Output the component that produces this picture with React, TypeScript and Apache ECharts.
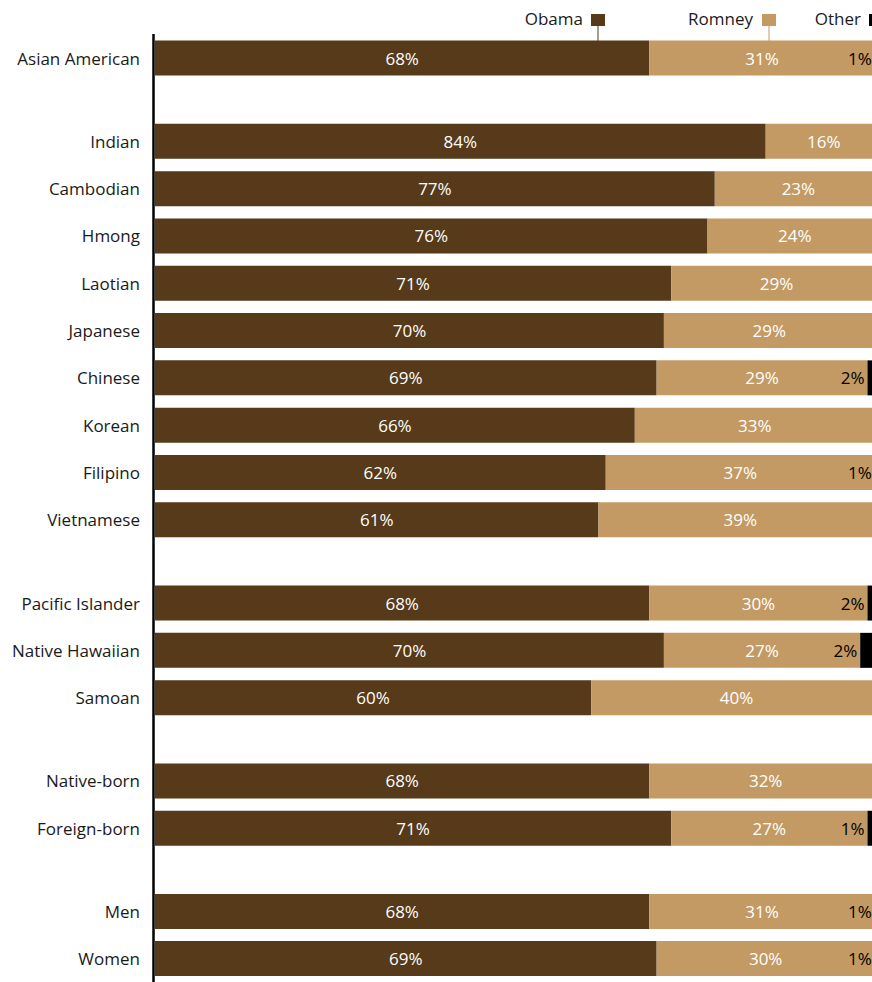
import React, { useEffect, useRef } from "react";
import * as echarts from "echarts";

const categories = [
  "Asian American",
  "Indian", "Cambodian", "Hmong", "Laotian", "Japanese", "Chinese", "Korean", "Filipino", "Vietnamese",
  "Pacific Islander", "Native Hawaiian", "Samoan",
  "Native-born", "Foreign-born",
  "Men", "Women",
];
const obama = [68, 84, 77, 76, 71, 70, 69, 66, 62, 61, 68, 70, 60, 68, 71, 68, 69];
const romney = [31, 16, 23, 24, 29, 29, 29, 33, 37, 39, 30, 27, 40, 32, 27, 31, 30];
const other = [1, 0, 0, 0, 0, 0, 2, 0, 1, 0, 2, 2, 0, 0, 1, 1, 1];
const groupSizes = [1, 9, 3, 2, 2];
const seriesNames = ["Obama", "Romney", "Other"];

const COLORS = ["#563a19", "#c39a63", "#000000"];
const FONT = "'Open Sans', 'Noto Sans', sans-serif";

export default function App() {
  const ref = useRef<HTMLDivElement>(null);
  useEffect(() => {
    if (!ref.current) return;
    const chart = echarts.init(ref.current, undefined, { renderer: "svg" });
    const pitch = 47.3;
    const groupGap = 36;
    const firstTop = 34.4;
    const grids: any[] = [];
    const xAxes: any[] = [];
    const yAxes: any[] = [];
    const series: any[] = [];
    let top = firstTop;
    let start = 0;
    groupSizes.forEach((n, gi) => {
      const h = n * pitch;
      grids.push({ left: 155, width: 727, top, height: h });
      xAxes.push({ gridIndex: gi, type: "value", min: 0, max: 100, show: false });
      yAxes.push({
        gridIndex: gi,
        type: "category",
        inverse: true,
        data: categories.slice(start, start + n),
        axisLine: { show: false },
        axisTick: { show: false },
        axisLabel: { fontSize: 17, color: "#1a1a1a", margin: 15, fontFamily: FONT },
      });
      const sets = [obama, romney, other];
      sets.forEach((arr, si) => {
        series.push({
          type: "bar",
          name: seriesNames[si],
          xAxisIndex: gi,
          yAxisIndex: gi,
          stack: "s" + gi,
          barWidth: 35,
          itemStyle: { color: COLORS[si] },
          data: arr.slice(start, start + n),
          label: {
            show: true,
            position: si === 2 ? "left" : "inside",
            distance: 3,
            fontSize: 17,
            fontFamily: FONT,
            color: si === 2 ? "#000" : "#fff",
            formatter: (p: any) => (p.value ? p.value + "%" : ""),
          },
        });
      });
      top += h + groupGap;
      start += n;
    });

    chart.setOption({
      animation: false,
      grid: grids,
      xAxis: xAxes,
      yAxis: yAxes,
      series,
      graphic: [
        { type: "line", shape: { x1: 153.5, y1: 34, x2: 153.5, y2: 982 }, style: { stroke: "#000", lineWidth: 2.5 } },
        { type: "text", x: 583, y: 18, style: { text: "Obama", fontSize: 17, fontFamily: FONT, fill: "#1a1a1a", textAlign: "right", textVerticalAlign: "middle" } },
        { type: "rect", shape: { x: 591, y: 14, width: 14, height: 12 }, style: { fill: COLORS[0] } },
        { type: "line", shape: { x1: 598, y1: 26, x2: 598, y2: 41 }, style: { stroke: COLORS[0], lineWidth: 1 } },
        { type: "text", x: 753, y: 18, style: { text: "Romney", fontSize: 17, fontFamily: FONT, fill: "#1a1a1a", textAlign: "right", textVerticalAlign: "middle" } },
        { type: "rect", shape: { x: 762, y: 14, width: 14, height: 12 }, style: { fill: COLORS[1] } },
        { type: "line", shape: { x1: 769, y1: 26, x2: 769, y2: 41 }, style: { stroke: COLORS[1], lineWidth: 1 } },
        { type: "text", x: 861, y: 18, style: { text: "Other", fontSize: 17, fontFamily: FONT, fill: "#1a1a1a", textAlign: "right", textVerticalAlign: "middle" } },
        { type: "rect", shape: { x: 869, y: 14, width: 14, height: 12 }, style: { fill: COLORS[2] } },
      ],
    });
    return () => chart.dispose();
  }, []);
  return (
    <div style={{ position: "fixed", left: 0, top: 0, width: 872, height: 982, overflow: "hidden", background: "#fff" }}>
      <div ref={ref} style={{ width: 900, height: 982 }} />
    </div>
  );
}
